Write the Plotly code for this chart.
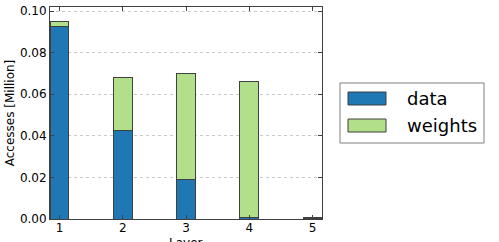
import plotly.graph_objects as go

layers = [1, 2, 3, 4, 5]
data_vals = [0.0925, 0.0424, 0.0191, 0.0006, 0.0002]
weight_vals = [0.0025, 0.0257, 0.0511, 0.0655, 0.0003]
y_ticks = [0.00, 0.02, 0.04, 0.06, 0.08, 0.10]
series_names = ["data", "weights"]
colors = ["#1f77b4", "#b2df8a"]

fig = go.Figure()
for name, vals, col in zip(series_names, [data_vals, weight_vals], colors):
    fig.add_trace(go.Bar(x=layers, y=vals, name=name, width=0.3,
                         marker=dict(color=col, line=dict(color="#404040", width=1)),
                         showlegend=False))

W = 272.0
H = 212.0
def px(x):
    return (x - 50) / W
def py(y):
    return (219 - y) / H

shapes = [
    dict(type="rect", xref="paper", yref="paper", x0=px(340), x1=px(484), y0=py(143), y1=py(83),
         line=dict(color="#808080", width=1), fillcolor="white"),
]
annots = []
for i, (name, col) in enumerate(zip(series_names, colors)):
    yc = 98.5 + i * 27
    shapes.append(dict(type="rect", xref="paper", yref="paper", x0=px(348), x1=px(386),
                       y0=py(yc + 6.5), y1=py(yc - 6.5), fillcolor=col,
                       line=dict(color="#404040", width=1)))
    annots.append(dict(text=name, xref="paper", yref="paper", x=px(405), y=py(yc),
                       xanchor="left", yanchor="middle", showarrow=False,
                       font=dict(size=18, color="black", family="DejaVu Sans")))
annots.append(dict(text="Layer", xref="paper", yref="paper", x=px(186), y=py(234),
                   xanchor="center", yanchor="top", showarrow=False,
                   font=dict(size=12, color="black", family="DejaVu Sans")))

fig.update_layout(
    barmode="stack",
    width=499, height=242,
    margin=dict(l=50, r=177, t=7, b=23),
    paper_bgcolor="white", plot_bgcolor="white",
    font=dict(family="DejaVu Sans", size=12, color="black"),
    shapes=shapes, annotations=annots,
)
fig.update_xaxes(range=[0.85, 5.15], tickvals=layers, ticktext=[str(l) for l in layers],
                 showgrid=False, zeroline=False, showline=True, linecolor="#404040", linewidth=1,
                 mirror="ticks", ticks="inside", ticklen=4, tickcolor="#404040",
                 tickfont=dict(size=12), automargin=False, ticklabelstandoff=-2)
fig.update_yaxes(range=[0, 0.102], tickvals=y_ticks, ticktext=["%.2f" % v for v in y_ticks],
                 showgrid=True, gridcolor="#c8c8c8", griddash="dot", gridwidth=1,
                 zeroline=False, showline=True, linecolor="#404040", linewidth=1,
                 mirror="ticks", ticks="inside", ticklen=4, tickcolor="#404040",
                 tickfont=dict(size=12), automargin=False,
                 title=dict(text="Accesses [Million]", font=dict(size=12), standoff=2))
fig.write_html("out.html", config={"displayModeBar": False},
               post_script="document.body.style.margin='0';document.body.style.overflow='hidden';")
